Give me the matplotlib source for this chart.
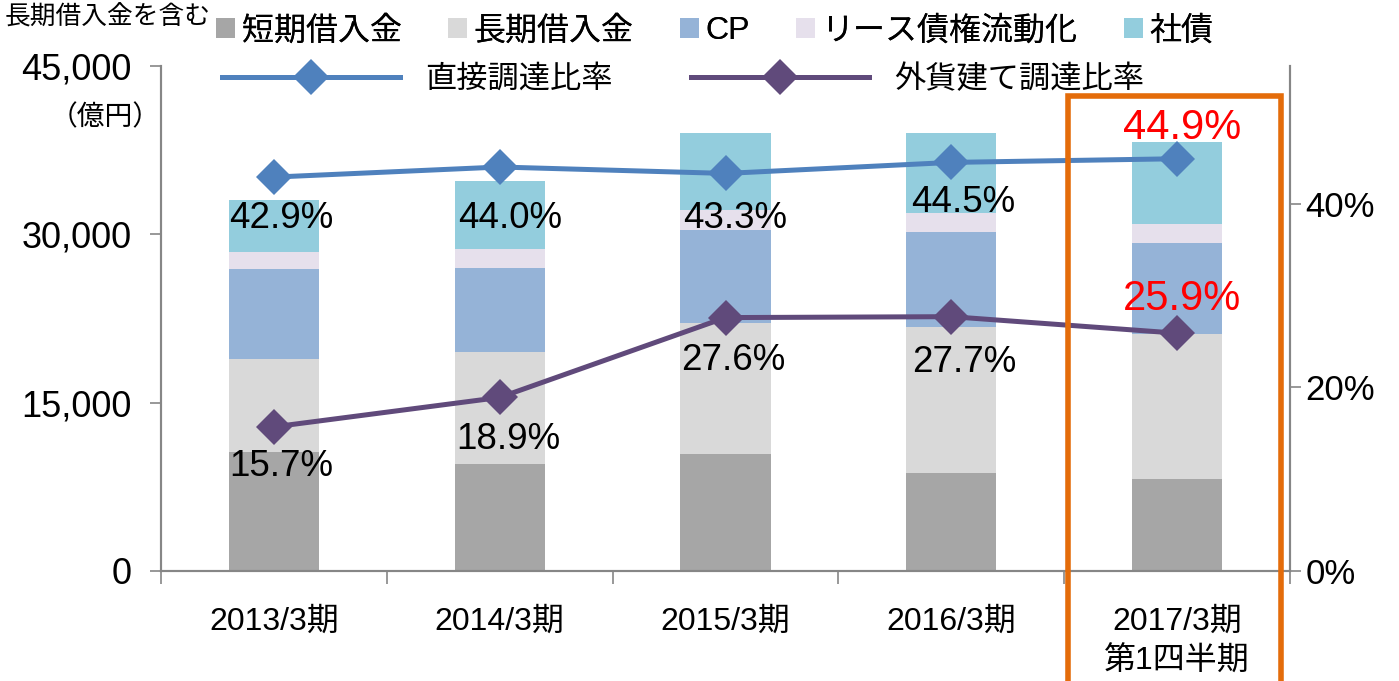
import matplotlib
matplotlib.use('Agg')
import matplotlib.pyplot as plt
from matplotlib.patches import Rectangle, Patch
from matplotlib.lines import Line2D
import matplotlib.transforms as mtransforms
from matplotlib.ticker import FuncFormatter, FixedLocator
import numpy as np

plt.rcParams['font.family'] = ['Liberation Sans', 'Noto Sans CJK JP', 'DejaVu Sans']

# ---------------- data ----------------
categories = ['2013/3期', '2014/3期', '2015/3期', '2016/3期', '2017/3期\n第1四半期']
short_term = [10600, 9500, 10400, 8700, 8200]
long_term = [8300, 10000, 11700, 13000, 12900]
cp = [8000, 7500, 8300, 8500, 8150]
lease = [1500, 1700, 1800, 1700, 1650]
bonds = [4700, 6050, 6850, 7100, 7350]
direct_ratio = [0.429, 0.440, 0.433, 0.445, 0.449]
fx_ratio = [0.157, 0.189, 0.276, 0.277, 0.259]
series_names = ['短期借入金', '長期借入金', 'CP', 'リース債権流動化', '社債']
line_names = ['直接調達比率', '外貨建て調達比率']
left_ticks = [0, 15000, 30000, 45000]
right_ticks = [0, 0.2, 0.4]

# ---------------- style ----------------
bar_colors = ['#A6A6A6', '#D9D9D9', '#95B3D7', '#E6E0EC', '#93CDDD']
direct_color = '#4F81BD'
fx_color = '#604A7B'
axis_gray = '#868686'
highlight = '#E46C0A'

W, H = 1399, 681
fig = plt.figure(figsize=(W / 100, H / 100), dpi=100)
ax = fig.add_axes([161 / W, 1 - 571 / H, (1290 - 161) / W, (571 - 66) / H])

x = np.arange(len(categories))
bottom = np.zeros(len(categories))
stack = [short_term, long_term, cp, lease, bonds]
for vals, col in zip(stack, bar_colors):
    ax.bar(x, vals, width=0.4, bottom=bottom, color=col, edgecolor='none', zorder=2)
    bottom += np.array(vals)

ax.set_xlim(-0.5, len(categories) - 0.5)
ax.set_ylim(0, 45000)
ax.set_yticks(left_ticks)
ax.yaxis.set_major_formatter(FuncFormatter(lambda v, p: f'{int(v):,}'))
ax.tick_params(axis='y', labelsize=26, length=8, width=1.2, color=axis_gray, pad=13)

# x ticks: boundaries (major, unlabeled), centres (minor, labelled)
ax.xaxis.set_major_locator(FixedLocator(np.arange(-0.5, len(categories), 1.0)))
ax.set_xticklabels([])
ax.xaxis.set_minor_locator(FixedLocator(x))
ax.set_xticklabels(categories, minor=True, fontsize=23, linespacing=1.4, va='top')
ax.tick_params(axis='x', which='major', length=9, width=1.2, color=axis_gray, direction='out')
ax.tick_params(axis='x', which='minor', length=0, pad=26)

for s in ['left', 'bottom', 'right']:
    ax.spines[s].set_color(axis_gray)
    ax.spines[s].set_linewidth(1.5)
ax.spines['top'].set_visible(False)

ax2 = ax.twinx()
ax2.set_ylim(0, 0.55)
ax2.set_yticks(right_ticks)
ax2.yaxis.set_major_formatter(FuncFormatter(lambda v, p: f'{v * 100:.0f}%'))
ax2.tick_params(axis='y', labelsize=25, length=8, width=1.2, color=axis_gray, pad=3)
for s in ['left', 'bottom', 'right']:
    ax2.spines[s].set_color(axis_gray)
    ax2.spines[s].set_linewidth(1.5)
ax2.spines['top'].set_visible(False)

ax2.plot(x, direct_ratio, color=direct_color, lw=3.6, marker='D', markersize=18,
         markeredgewidth=0, zorder=4)
ax2.plot(x, fx_ratio, color=fx_color, lw=3.6, marker='D', markersize=18,
         markeredgewidth=0, zorder=4)

# data labels (offsets in pixels from the points)
direct_offsets = [(7, -41), (10, -51), (10, -45), (12, -40), (5, 31)]
fx_offsets = [(7, -40), (9, -42), (8, -43), (13, -46), (5, 34)]
n = len(categories)
for i in range(n):
    last = (i == n - 1)
    col = 'red' if last else 'black'
    fs = 30 if last else 26.5
    ax2.annotate(f'{direct_ratio[i] * 100:.1f}%', (x[i], direct_ratio[i]),
                 xytext=direct_offsets[i], textcoords='offset pixels',
                 ha='center', va='center', color=col, fontsize=fs, zorder=6)
    ax2.annotate(f'{fx_ratio[i] * 100:.1f}%', (x[i], fx_ratio[i]),
                 xytext=fx_offsets[i], textcoords='offset pixels',
                 ha='center', va='center', color=col, fontsize=fs, zorder=6)

# highlight box around the last category
trans = mtransforms.blended_transform_factory(ax2.transData, ax2.transAxes)
rect = Rectangle((x[-1] - 0.484, -0.3), 0.944, 0.3 + 0.9406, transform=trans,
                 fill=False, edgecolor=highlight, lw=4, clip_on=False, zorder=7)
ax2.add_patch(rect)

# legends
bar_handles = [Patch(facecolor=c, edgecolor='none') for c in bar_colors]
leg1 = fig.legend(bar_handles, series_names, loc='center left',
                  bbox_to_anchor=(216 / W, 1 - 31 / H), ncol=5, frameon=False,
                  fontsize=23, handlelength=0.6, handleheight=0.6,
                  handletextpad=0.2, columnspacing=1.45, borderpad=0, borderaxespad=0)
line_handles = [Line2D([0], [0], color=direct_color, lw=3.6, marker='D', markersize=18, markeredgewidth=0),
                Line2D([0], [0], color=fx_color, lw=3.6, marker='D', markersize=18, markeredgewidth=0)]
leg2 = fig.legend(line_handles, line_names, loc='center left',
                  bbox_to_anchor=(222 / W, 1 - 80 / H), ncol=2, frameon=False,
                  fontsize=22.5, handlelength=5.7, handletextpad=0.8,
                  columnspacing=2.5, borderpad=0, borderaxespad=0, numpoints=1)
fig.add_artist(leg1)

fig.text(5 / W, 1 - 17 / H, '長期借入金を含む', fontsize=18.5, ha='left', va='center')
fig.text(105 / W, 1 - 118 / H, '（億円）', fontsize=20, ha='center', va='center')

fig.savefig('out.png', dpi=100)
